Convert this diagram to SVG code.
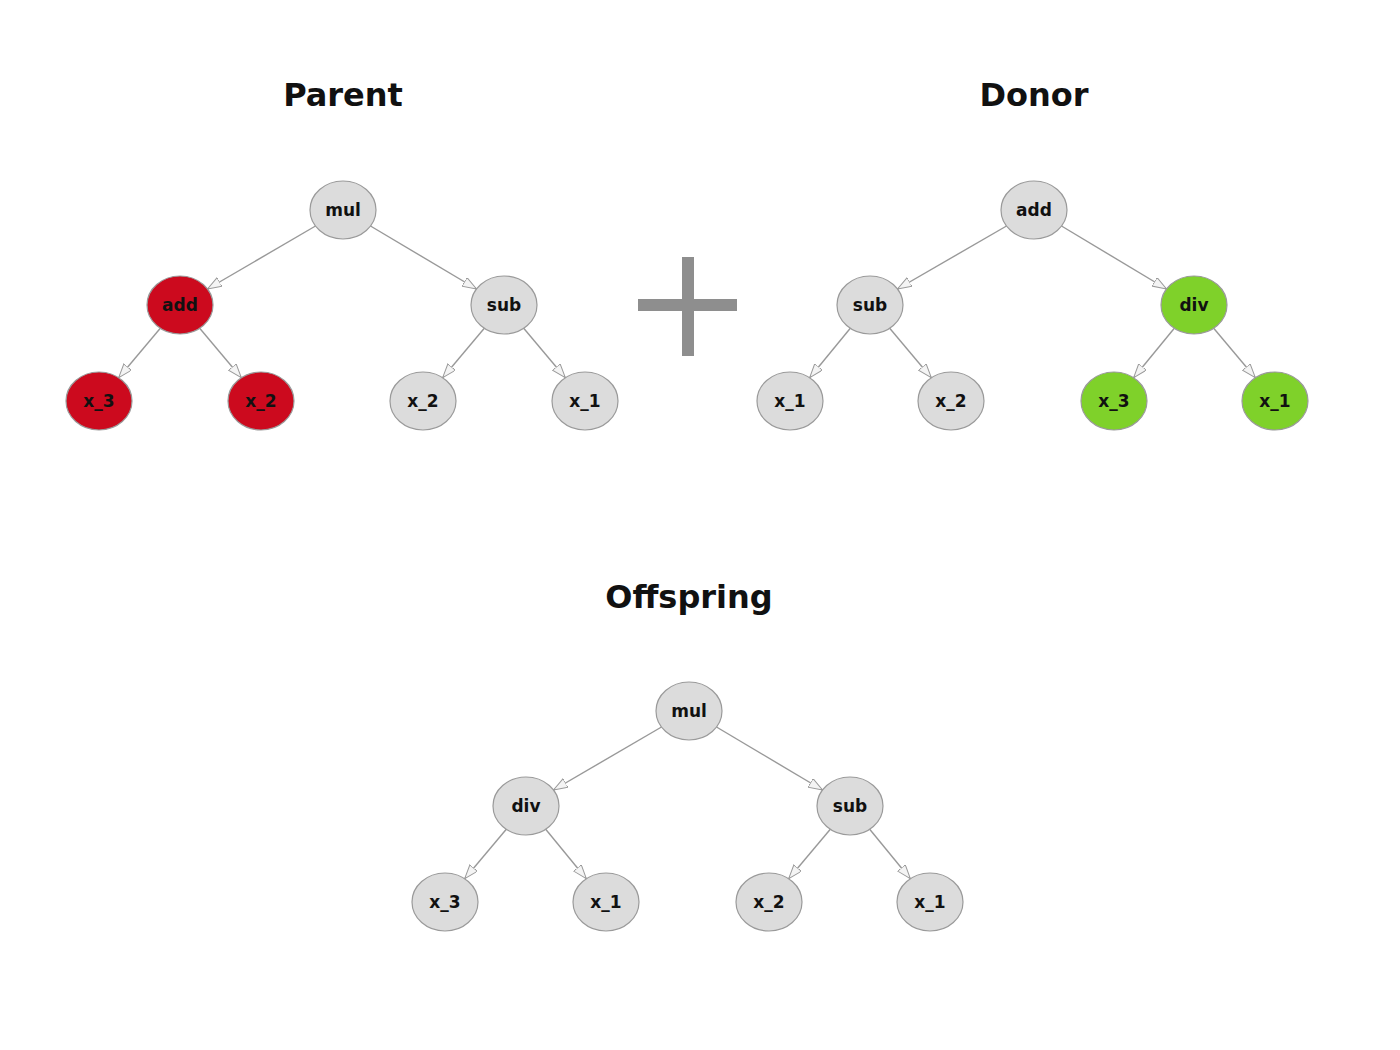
<svg xmlns="http://www.w3.org/2000/svg" width="1400" height="1050" viewBox="0 0 1400 1050">
<style>
.title{font-family:"DejaVu Sans",sans-serif;font-weight:bold;font-size:32px;fill:#111;text-anchor:middle}
.lbl{font-family:"DejaVu Sans",sans-serif;font-weight:bold;font-size:17px;fill:#111;text-anchor:middle;dominant-baseline:central}
.n ellipse{stroke:#9a9a9a;stroke-width:1.2}
.g ellipse{fill:#dcdcdc}
.r ellipse{fill:#cc0a1e}
.v ellipse{fill:#7fd12a}
.e line{stroke:#999;stroke-width:1.4;marker-end:url(#arr)}
</style>
<defs>
<marker id="arr" markerUnits="userSpaceOnUse" markerWidth="16" markerHeight="12" refX="14" refY="5" orient="auto">
<path d="M0,0 L14,5 L0,10 z" fill="#f4f4f4" stroke="#999" stroke-width="1"/>
</marker>
</defs>
<rect width="1400" height="1050" fill="#fff"/>
<text class="title" x="343" y="106">Parent</text>
<text class="title" x="1034" y="106">Donor</text>
<text class="title" x="689" y="608">Offspring</text>
<g id="plus" fill="#8e8e8e">
<rect x="682" y="257" width="12" height="99"/>
<rect x="638" y="299" width="99" height="12"/>
</g>
<g id="connectors" class="e">
<line x1="315.5" y1="226" x2="207.5" y2="289"/>
<line x1="370.5" y1="226" x2="476.5" y2="289"/>
<line x1="160.3" y1="328.3" x2="118.7" y2="377.7"/>
<line x1="199.7" y1="328.3" x2="241.3" y2="377.7"/>
<line x1="484.3" y1="328.3" x2="442.7" y2="377.7"/>
<line x1="523.7" y1="328.3" x2="565.3" y2="377.7"/>
<line x1="1006.5" y1="226" x2="897.5" y2="289"/>
<line x1="1061.5" y1="226" x2="1166.5" y2="289"/>
<line x1="850.3" y1="328.3" x2="809.7" y2="377.7"/>
<line x1="889.7" y1="328.3" x2="931.3" y2="377.7"/>
<line x1="1174.3" y1="328.3" x2="1133.7" y2="377.7"/>
<line x1="1213.7" y1="328.3" x2="1255.3" y2="377.7"/>
<line x1="661.5" y1="727" x2="553.5" y2="790"/>
<line x1="716.5" y1="727" x2="822.5" y2="790"/>
<line x1="506.3" y1="829.3" x2="464.7" y2="878.7"/>
<line x1="545.7" y1="829.3" x2="586.3" y2="878.7"/>
<line x1="830.3" y1="829.3" x2="788.7" y2="878.7"/>
<line x1="869.7" y1="829.3" x2="910.3" y2="878.7"/>
</g>
<g id="p_mul" class="n g"><ellipse cx="343" cy="210" rx="33" ry="29"/><text class="lbl" x="343" y="210">mul</text></g>
<g id="p_add" class="n r"><ellipse cx="180" cy="305" rx="33" ry="29"/><text class="lbl" x="180" y="305">add</text></g>
<g id="p_sub" class="n g"><ellipse cx="504" cy="305" rx="33" ry="29"/><text class="lbl" x="504" y="305">sub</text></g>
<g id="p_x3" class="n r"><ellipse cx="99" cy="401" rx="33" ry="29"/><text class="lbl" x="99" y="401">x_3</text></g>
<g id="p_x2a" class="n r"><ellipse cx="261" cy="401" rx="33" ry="29"/><text class="lbl" x="261" y="401">x_2</text></g>
<g id="p_x2b" class="n g"><ellipse cx="423" cy="401" rx="33" ry="29"/><text class="lbl" x="423" y="401">x_2</text></g>
<g id="p_x1" class="n g"><ellipse cx="585" cy="401" rx="33" ry="29"/><text class="lbl" x="585" y="401">x_1</text></g>
<g id="d_add" class="n g"><ellipse cx="1034" cy="210" rx="33" ry="29"/><text class="lbl" x="1034" y="210">add</text></g>
<g id="d_sub" class="n g"><ellipse cx="870" cy="305" rx="33" ry="29"/><text class="lbl" x="870" y="305">sub</text></g>
<g id="d_div" class="n v"><ellipse cx="1194" cy="305" rx="33" ry="29"/><text class="lbl" x="1194" y="305">div</text></g>
<g id="d_x1a" class="n g"><ellipse cx="790" cy="401" rx="33" ry="29"/><text class="lbl" x="790" y="401">x_1</text></g>
<g id="d_x2" class="n g"><ellipse cx="951" cy="401" rx="33" ry="29"/><text class="lbl" x="951" y="401">x_2</text></g>
<g id="d_x3" class="n v"><ellipse cx="1114" cy="401" rx="33" ry="29"/><text class="lbl" x="1114" y="401">x_3</text></g>
<g id="d_x1b" class="n v"><ellipse cx="1275" cy="401" rx="33" ry="29"/><text class="lbl" x="1275" y="401">x_1</text></g>
<g id="o_mul" class="n g"><ellipse cx="689" cy="711" rx="33" ry="29"/><text class="lbl" x="689" y="711">mul</text></g>
<g id="o_div" class="n g"><ellipse cx="526" cy="806" rx="33" ry="29"/><text class="lbl" x="526" y="806">div</text></g>
<g id="o_sub" class="n g"><ellipse cx="850" cy="806" rx="33" ry="29"/><text class="lbl" x="850" y="806">sub</text></g>
<g id="o_x3" class="n g"><ellipse cx="445" cy="902" rx="33" ry="29"/><text class="lbl" x="445" y="902">x_3</text></g>
<g id="o_x1a" class="n g"><ellipse cx="606" cy="902" rx="33" ry="29"/><text class="lbl" x="606" y="902">x_1</text></g>
<g id="o_x2" class="n g"><ellipse cx="769" cy="902" rx="33" ry="29"/><text class="lbl" x="769" y="902">x_2</text></g>
<g id="o_x1b" class="n g"><ellipse cx="930" cy="902" rx="33" ry="29"/><text class="lbl" x="930" y="902">x_1</text></g>
</svg>
